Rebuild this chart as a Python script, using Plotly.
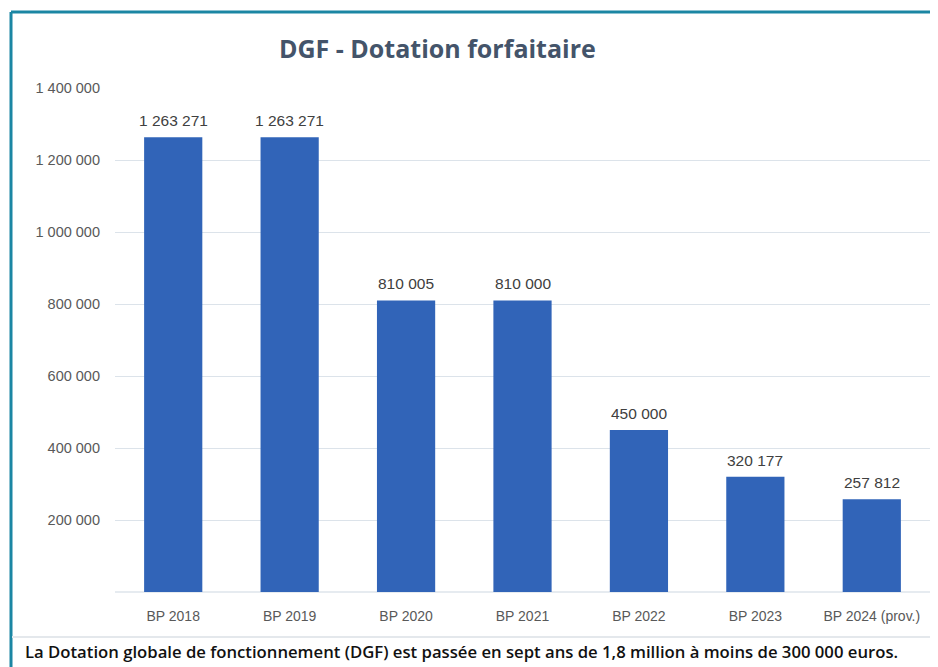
import plotly.graph_objects as go

categories = ["BP 2018", "BP 2019", "BP 2020", "BP 2021", "BP 2022", "BP 2023", "BP 2024 (prov.)"]
values = [1263271, 1263271, 810005, 810000, 450000, 320177, 257812]
tick_vals = [0, 200000, 400000, 600000, 800000, 1000000, 1200000, 1400000]
tick_text = ["", "200 000", "400 000", "600 000", "800 000", "1 000 000", "1 200 000", "1 400 000"]
value_labels = [f"{v:,}".replace(",", " ") for v in values]

title_text = "DGF - Dotation forfaitaire"
caption_text = "La Dotation globale de fonctionnement (DGF) est passée en sept ans de 1,8 million à moins de 300 000 euros."

# page has an 8px body margin; figure coordinates = screen - 8
W, H = 922, 659
L, R, T, B = 107, 0, 80, 75
PW, PH = W - L - R, H - T - B


def px(x):
    return (x - 8 - L) / PW


def py(y):
    return (H - B - (y - 8)) / PH


fig = go.Figure(go.Bar(
    x=categories, y=values,
    marker=dict(color="#3164B8", line=dict(width=0)),
    width=0.5,
))

for c, v, lab in zip(categories, values, value_labels):
    fig.add_annotation(x=c, y=v, text=lab, showarrow=False, yanchor="bottom", yshift=6,
                       font=dict(family="Liberation Sans, Arial", size=15.5, color="#404040"))

fig.update_layout(
    width=W, height=H,
    margin=dict(l=L, r=R, t=T, b=B, pad=0),
    paper_bgcolor="white", plot_bgcolor="white",
    showlegend=False,
    xaxis=dict(showgrid=False, showline=False, ticks="", ticklabelstandoff=14,
               tickfont=dict(family="Liberation Sans, Arial", size=14, color="#595959")),
    yaxis=dict(range=[0, 1400000], tickvals=tick_vals, ticktext=tick_text,
               showgrid=True, gridcolor="#DCE3EA", gridwidth=1, zeroline=True,
               zerolinecolor="#E6EBF0", showline=False,
               tickfont=dict(family="Liberation Sans, Arial", size=14.5, color="#595959"),
               ticklabelstandoff=14),
    font=dict(family="Liberation Sans, Arial"),
)

fig.update_layout(shapes=[
    dict(type="line", xref="paper", yref="paper",
         x0=px(11), x1=px(11), y0=py(667), y1=py(12),
         line=dict(color="#1B86A3", width=3)),
    dict(type="line", xref="paper", yref="paper",
         x0=px(11), x1=px(938), y0=py(12), y1=py(12),
         line=dict(color="#1B86A3", width=3)),
    dict(type="line", xref="paper", yref="paper",
         x0=px(12), x1=px(938), y0=py(637), y1=py(637),
         line=dict(color="#E4E8EC", width=2)),
])

fig.add_annotation(text=f"<b>{title_text}</b>", xref="paper", yref="paper",
                   x=px(437), y=py(48), xanchor="center", yanchor="middle",
                   showarrow=False, font=dict(family="Open Sans, Liberation Sans", size=25, color="#44546A"))
fig.add_annotation(text=caption_text, xref="paper", yref="paper",
                   x=px(23), y=py(651), xanchor="left", yanchor="middle",
                   showarrow=False, font=dict(family="Open Sans", size=16.7, color="#111111", weight=600))

fig.write_html("out.html")
